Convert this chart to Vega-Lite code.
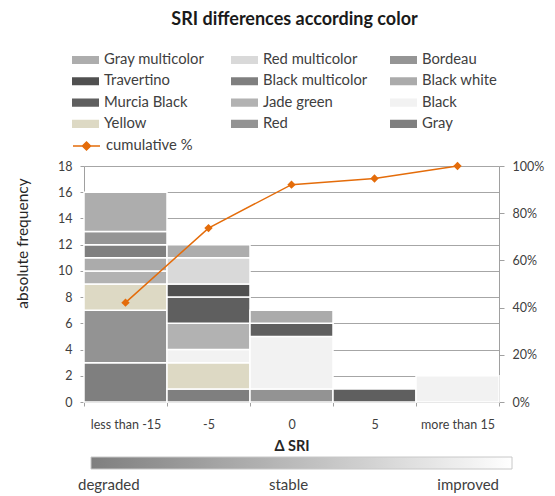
{
  "$schema": "https://vega.github.io/schema/vega-lite/v6.json",
  "width": 415,
  "height": 236,
  "autosize": {"type": "none"},
  "padding": {"left": 84, "top": 166, "right": 56, "bottom": 94},
  "background": "white",
  "title": {"text": "SRI differences according color", "anchor": "middle", "font": "Lato", "fontSize": 18, "fontWeight": "bold", "color": "#1a1a1a", "offset": 23, "dx": 3},
  "config": {
    "view": {"stroke": null},
    "font": "Lato",
    "legend": {"gradientHorizontalMaxLength": 600, "padding": 0, "labelFont": "Lato", "labelColor": "#404040"},
    "axis": {"labelFont": "Lato", "titleFont": "Lato", "labelColor": "#404040", "titleColor": "#262626", "domainColor": "#a0a0a0", "tickColor": "#a0a0a0", "gridColor": "#a6a6a6"}
  },
  "datasets": {
    "bars": [
      {"delta": "less than -15", "color": "Gray", "k": 12, "count": 3},
      {"delta": "less than -15", "color": "Red", "k": 11, "count": 4},
      {"delta": "less than -15", "color": "Yellow", "k": 10, "count": 2},
      {"delta": "less than -15", "color": "Jade green", "k": 8, "count": 1},
      {"delta": "less than -15", "color": "Black white", "k": 6, "count": 1},
      {"delta": "less than -15", "color": "Black multicolor", "k": 5, "count": 1},
      {"delta": "less than -15", "color": "Bordeau", "k": 3, "count": 1},
      {"delta": "less than -15", "color": "Gray multicolor", "k": 1, "count": 3},
      {"delta": "-5", "color": "Gray", "k": 12, "count": 1},
      {"delta": "-5", "color": "Yellow", "k": 10, "count": 2},
      {"delta": "-5", "color": "Black", "k": 9, "count": 1},
      {"delta": "-5", "color": "Jade green", "k": 8, "count": 2},
      {"delta": "-5", "color": "Murcia Black", "k": 7, "count": 2},
      {"delta": "-5", "color": "Travertino", "k": 4, "count": 1},
      {"delta": "-5", "color": "Red multicolor", "k": 2, "count": 2},
      {"delta": "-5", "color": "Gray multicolor", "k": 1, "count": 1},
      {"delta": "0", "color": "Red", "k": 11, "count": 1},
      {"delta": "0", "color": "Black", "k": 9, "count": 4},
      {"delta": "0", "color": "Murcia Black", "k": 7, "count": 1},
      {"delta": "0", "color": "Black white", "k": 6, "count": 1},
      {"delta": "5", "color": "Murcia Black", "k": 7, "count": 1},
      {"delta": "more than 15", "color": "Black", "k": 9, "count": 2}
    ],
    "cum": [
      {"delta": "less than -15", "cum": 0.421},
      {"delta": "-5", "cum": 0.737},
      {"delta": "0", "cum": 0.921},
      {"delta": "5", "cum": 0.947},
      {"delta": "more than 15", "cum": 1}
    ],
    "scale": [{"level": 0}, {"level": 1}]
  },
  "layer": [
    {
      "data": {"name": "bars"},
      "mark": {"type": "bar", "stroke": "white", "strokeWidth": 1.5},
      "encoding": {
        "x": {
          "field": "delta", "type": "nominal",
          "sort": ["less than -15", "-5", "0", "5", "more than 15"],
          "scale": {"paddingInner": 0, "paddingOuter": 0},
          "axis": {"title": "Δ SRI", "titleFontSize": 14.5, "titleFontWeight": "bold", "titlePadding": 9, "labelAngle": 0, "labelFontSize": 12.5, "labelPadding": 12, "tickBand": "extent", "tickSize": 4, "grid": false}
        },
        "y": {
          "field": "count", "type": "quantitative", "stack": "zero",
          "scale": {"domain": [0, 18]},
          "axis": {"title": "absolute frequency", "values": [0, 2, 4, 6, 8, 10, 12, 14, 16, 18], "grid": true, "tickSize": 4, "labelPadding": 8, "labelFontSize": 12.5, "titleFontSize": 15.5, "titleFontWeight": "normal", "titleX": -62, "titleY": 77, "titleBaseline": "middle", "titleAlign": "center", "titleAngle": 270}
        },
        "color": {
          "field": "color", "type": "nominal",
          "scale": {
            "domain": ["Gray multicolor", "Travertino", "Murcia Black", "Yellow", "Red multicolor", "Black multicolor", "Jade green", "Red", "Bordeau", "Black white", "Black", "Gray"],
            "range": ["#adadad", "#505050", "#5f5f5f", "#ddd9c4", "#d9d9d9", "#7f7f7f", "#b2b2b2", "#939393", "#959595", "#ababab", "#f2f2f2", "#7f7f7f"]
          },
          "legend": {"title": null, "orient": "none", "legendX": -12, "legendY": -114, "columns": 3, "gridAlign": "all", "columnPadding": 22, "rowPadding": 5.3, "clipHeight": 16, "symbolType": "M-1,-0.3H1V0.3H-1Z", "symbolSize": 729, "symbolStrokeWidth": 0, "symbolOpacity": 1, "labelFontSize": 14.8, "labelOffset": 5}
        },
        "order": {"field": "k", "sort": "descending"}
      }
    },
    {
      "data": {"name": "cum"},
      "encoding": {
        "x": {"field": "delta", "type": "nominal", "sort": ["less than -15", "-5", "0", "5", "more than 15"]},
        "y": {
          "field": "cum", "type": "quantitative",
          "scale": {"domain": [0, 1]},
          "axis": {"orient": "right", "title": null, "format": ".0%", "values": [0, 0.2, 0.4, 0.6, 0.8, 1], "grid": false, "tickSize": 5, "labelPadding": 8, "labelFontSize": 12.5}
        }
      },
      "layer": [
        {
          "mark": {"type": "line", "strokeWidth": 1.5},
          "encoding": {
            "stroke": {
              "datum": "cumulative %", "type": "nominal",
              "scale": {"range": ["#e46c0a"]},
              "legend": {"title": null, "orient": "none", "legendX": -12, "legendY": -28, "clipHeight": 16, "symbolType": "M-1,0H1M-0.3,0L0,-0.3L0.3,0L0,0.3Z", "symbolSize": 729, "symbolStrokeWidth": 1.5, "symbolFillColor": "#e46c0a", "labelFontSize": 14.8, "labelOffset": 5, "encode": {"symbols": {"update": {"fill": {"value": "#e46c0a"}}}}}
            }
          }
        },
        {
          "mark": {"type": "point", "shape": "diamond", "filled": true, "size": 70, "color": "#e46c0a", "opacity": 1}
        }
      ]
    },
    {
      "data": {"name": "scale"},
      "mark": {"type": "point", "filled": true, "opacity": 0},
      "encoding": {
        "fill": {
          "field": "level", "type": "quantitative",
          "scale": {"domain": [0, 1], "range": ["#7f7f7f", "#ffffff"]},
          "legend": {"title": null, "orient": "none", "direction": "horizontal", "legendX": 7, "legendY": 291, "gradientLength": 421, "gradientThickness": 12, "gradientStrokeColor": "#c8c8c8", "gradientStrokeWidth": 1, "values": [0, 0.5, 1], "labelExpr": "datum.value == 0 ? 'degraded' : datum.value == 1 ? 'improved' : 'stable'", "labelAlign": "center", "labelOffset": 9, "labelFontSize": 15, "labelOverlap": false, "encode": {"labels": {"update": {"dx": {"value": -13}}}}}
        }
      }
    }
  ],
  "resolve": {"scale": {"y": "independent"}}
}
